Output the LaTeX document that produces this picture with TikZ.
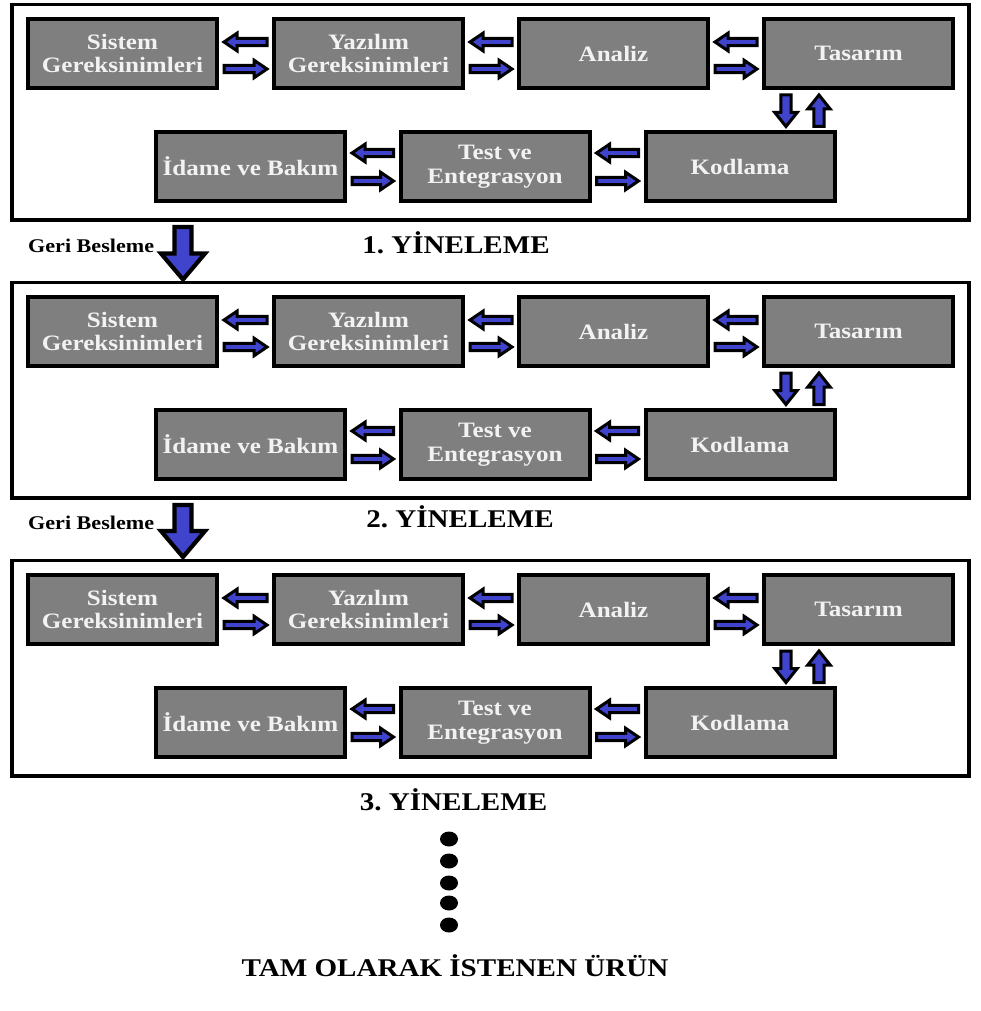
\documentclass[tikz,border=0pt]{standalone}
\usepackage{fontspec}
\setmainfont{Liberation Serif}[FakeStretch=1.14]
\usetikzlibrary{calc}
\definecolor{arrowblue}{RGB}{64,68,204}
\definecolor{boxgray}{RGB}{127,127,127}
\definecolor{boxtext}{RGB}{242,242,242}
\frenchspacing

\begin{document}
\begin{tikzpicture}[x=1pt,y=1pt,
  stage/.style={draw=black, line width=4pt, fill=boxgray, text=boxtext,
    minimum width=189pt, minimum height=69pt, inner sep=0pt, align=center,
    font=\bfseries\fontsize{22}{23.5}\selectfont},
  framebox/.style={draw=black, line width=3.5pt, minimum width=957pt,
    minimum height=215.5pt, inner sep=0pt, outer sep=0pt},
  caption/.style={font=\bfseries\fontsize{25.5}{30}\selectfont, anchor=base, inner sep=0pt},
  sidenote/.style={font=\bfseries\fontsize{19.4}{22}\selectfont, anchor=base west, inner sep=0pt},
  % block arrow: shaft half-width, head half-width, head length, outline width
  blockarrow/.style n args={4}{draw=black, fill=arrowblue, line width=#4, line join=miter,
    to path={
      let \p1=(\tikztostart), \p2=(\tikztotarget),
          \n1={atan2(\y2-\y1,\x2-\x1)},
          \n2={veclen(\x2-\x1,\y2-\y1)}
      in ($(\p1)+({\n1+90}:#1)$)
      -- ($(\p1)+({\n1}:{\n2-#3})+({\n1+90}:#1)$)
      -- ($(\p1)+({\n1}:{\n2-#3})+({\n1+90}:#2)$)
      -- (\p2)
      -- ($(\p1)+({\n1}:{\n2-#3})+({\n1-90}:#2)$)
      -- ($(\p1)+({\n1}:{\n2-#3})+({\n1-90}:#1)$)
      -- ($(\p1)+({\n1-90}:#1)$)
      -- cycle}},
  smallarrow/.style={blockarrow={3.6}{8.8}{13}{3pt}},
  vertarrow/.style={blockarrow={5.2}{11.2}{14}{3pt}},
  bigarrow/.style={blockarrow={8.5}{22}{26}{4.2pt}}
]
\useasboundingbox (0,0) rectangle (980,-1011);
\fill[white] (0,0) rectangle (980,-1011);

% three iterations of the same process
\foreach \k/\dy in {1/0,2/-278,3/-556}{
  \begin{scope}[yshift=\dy pt]
    \node[framebox] (frame\k) at (490.5,-112.25) {};
    \node[stage] (sis\k) at (122.5,-53.5) {Sistem\\Gereksinimleri};
    \node[stage] (yaz\k) at (368.5,-53.5) {Yazılım\\Gereksinimleri};
    \node[stage] (ana\k) at (613.5,-53.5) {Analiz};
    \node[stage] (tas\k) at (858.5,-53.5) {Tasarım};
    \node[stage] (ida\k) at (250.5,-166.5) {İdame ve Bakım};
    \node[stage] (tes\k) at (495,-166.5) {Test ve\\Entegrasyon};
    \node[stage] (kod\k) at (740,-166.5) {Kodlama};
    % paired arrows between neighbouring stages
    \foreach \l/\r/\up/\dn in {sis/yaz/11.5/-15.5, yaz/ana/11.5/-15.5, ana/tas/11.5/-15.5,
                               ida/tes/13.5/-14.5, tes/kod/13.5/-14.5}{
      \coordinate (ba) at ([xshift=-5pt,yshift=\up pt]\r\k.west);
      \coordinate (bb) at ([xshift=5pt,yshift=\up pt]\l\k.east);
      \path[smallarrow] (ba) to (bb);
      \coordinate (fa) at ([xshift=5pt,yshift=\dn pt]\l\k.east);
      \coordinate (fb) at ([xshift=-5pt,yshift=\dn pt]\r\k.west);
      \path[smallarrow] (fa) to (fb);
    }
    % design <-> coding
    \coordinate (da) at ([xshift=-72.5pt,yshift=-5pt]tas\k.south);
    \coordinate (db) at ([xshift=46pt,yshift=3.5pt]kod\k.north);
    \path[vertarrow] (da) to (db);
    \coordinate (ua) at ([xshift=79pt,yshift=3.5pt]kod\k.north);
    \coordinate (ub) at ([xshift=-39.5pt,yshift=-5pt]tas\k.south);
    \path[vertarrow] (ua) to (ub);
  \end{scope}
}

% feedback between iterations
\coordinate (fbs1) at ([xshift=-307.5pt,yshift=-7pt]frame1.south);
\coordinate (fbe1) at ([xshift=-307.5pt,yshift=3pt]frame2.north);
\path[bigarrow] (fbs1) to (fbe1);
\coordinate (fbs2) at ([xshift=-307.5pt,yshift=-7pt]frame2.south);
\coordinate (fbe2) at ([xshift=-307.5pt,yshift=3.5pt]frame3.north);
\path[bigarrow] (fbs2) to (fbe2);

\node[sidenote] (fb1) at (28,-252) {Geri Besleme};
\node[sidenote] (fb2) at (28,-529) {Geri Besleme};

\node[caption] (it1) at (456,-253) {1. YİNELEME};
\node[caption] (it2) at (460,-527) {2. YİNELEME};
\node[caption] (it3) at (453.5,-810) {3. YİNELEME};

% continuation dots
\foreach \yy in {839,861,883,903,925}{
  \fill[black] (449,-\yy) ellipse [x radius=9, y radius=7.5];
}

\node[caption] (goal) at (455,-976) {TAM OLARAK İSTENEN ÜRÜN};
\end{tikzpicture}
\end{document}
